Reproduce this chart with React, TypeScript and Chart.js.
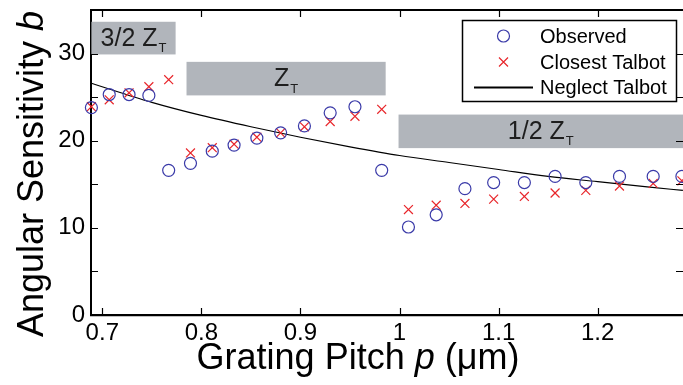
import React, { useEffect, useRef } from 'react';
import { Chart, registerables } from 'chart.js';

Chart.register(...registerables);

const pitch = [0.689, 0.707, 0.727, 0.747, 0.767, 0.789, 0.811, 0.833, 0.856, 0.88, 0.904, 0.93, 0.955, 0.982, 1.009, 1.037, 1.066, 1.095, 1.126, 1.157, 1.188, 1.222, 1.256, 1.285];
const observed = [23.8, 25.3, 25.3, 25.2, 16.6, 17.4, 18.8, 19.5, 20.3, 20.9, 21.7, 23.2, 23.9, 16.6, 10.1, 11.5, 14.5, 15.2, 15.2, 15.9, 15.2, 15.9, 15.9, 15.9];
const closestTalbot = [23.9, 24.7, 25.5, 26.2, 27.0, 18.6, 19.2, 19.6, 20.4, 20.9, 21.6, 22.2, 22.8, 23.6, 12.1, 12.6, 12.8, 13.3, 13.6, 14.0, 14.3, 14.8, 15.1, 15.4];
const curvePitch = [0.689, 0.75, 0.8, 0.85, 0.9, 0.95, 1.0, 1.05, 1.1, 1.15, 1.2, 1.25, 1.286];
const neglectTalbot = [26.6, 24.4, 22.9, 21.6, 20.4, 19.3, 18.3, 17.5, 16.7, 15.9, 15.3, 14.7, 14.3];

const xTicks = [0.7, 0.8, 0.9, 1, 1.1, 1.2];
const yTicks = [0, 5, 10, 15, 20, 25, 30];
const yLabelEvery = 10;

const bandLabels = ['3/2 Z', 'Z', '1/2 Z'];
const bandSub = ['T', 'T', 'T'];
const bandXStart = [0.689, 0.785, 0.999];
const bandXEnd = [0.774, 0.986, 1.3];
const bandYLow = [29.9, 25.2, 19.15];
const bandYHigh = [33.65, 29.05, 23.0];

const FONT = '"Liberation Sans", Arial, Helvetica, sans-serif';
const BLUE = '#3a3aa8';
const RED = '#e8262b';
const BAND = '#b1b5bb';

const noPad = (s: any) => {
  s.paddingTop = 0;
  s.paddingBottom = 0;
  s.paddingLeft = 0;
  s.paddingRight = 0;
};

const deco = {
  id: 'deco',
  beforeDatasetsDraw(chart: any) {
    const { ctx, chartArea: a } = chart;
    const x = chart.scales.x;
    const y = chart.scales.y;
    ctx.save();
    ctx.beginPath();
    ctx.rect(a.left, a.top, a.right - a.left, a.bottom - a.top);
    ctx.clip();
    for (let i = 0; i < bandLabels.length; i++) {
      const x0 = Math.max(a.left, x.getPixelForValue(bandXStart[i]));
      const x1 = Math.min(a.right, x.getPixelForValue(bandXEnd[i]));
      const y0 = y.getPixelForValue(bandYHigh[i]);
      const y1 = y.getPixelForValue(bandYLow[i]);
      ctx.fillStyle = BAND;
      ctx.fillRect(x0, y0, x1 - x0, y1 - y0);
      ctx.fillStyle = '#1e1e1e';
      ctx.font = `25px ${FONT}`;
      const mw = ctx.measureText(bandLabels[i]).width;
      ctx.font = `13px ${FONT}`;
      const sw = ctx.measureText(bandSub[i]).width;
      const total = mw + sw + 1;
      const cx = (x0 + x1) / 2;
      const sx = cx - total / 2;
      const base = (y0 + y1) / 2 + 7.5;
      ctx.textBaseline = 'alphabetic';
      ctx.textAlign = 'left';
      ctx.font = `25px ${FONT}`;
      ctx.fillText(bandLabels[i], sx, base);
      ctx.font = `13px ${FONT}`;
      ctx.fillText(bandSub[i], sx + mw + 1, base + 6.6);
    }
    ctx.restore();
  },
  afterDraw(chart: any) {
    const { ctx, chartArea: a } = chart;
    const x = chart.scales.x;
    const y = chart.scales.y;
    ctx.save();
    ctx.strokeStyle = '#000';
    ctx.lineWidth = 2;
    ctx.beginPath();
    ctx.moveTo(a.left - 1, a.top);
    ctx.lineTo(a.right, a.top);
    ctx.stroke();
    ctx.lineWidth = 1.2;
    ctx.beginPath();
    for (const v of xTicks) {
      const px = Math.round(x.getPixelForValue(v)) + 0.5;
      ctx.moveTo(px, a.bottom);
      ctx.lineTo(px, a.bottom - 7);
      ctx.moveTo(px, a.top);
      ctx.lineTo(px, a.top + 7);
    }
    for (const v of yTicks) {
      const py = Math.round(y.getPixelForValue(v)) + 0.5;
      ctx.moveTo(a.left, py);
      ctx.lineTo(a.left + 7, py);
      ctx.moveTo(a.right, py);
      ctx.lineTo(a.right - 7, py);
    }
    ctx.stroke();

    const lx = 462.5, ly = 20.5, lw = 214, lh = 81;
    ctx.fillStyle = '#fff';
    ctx.fillRect(lx, ly, lw, lh);
    ctx.lineWidth = 1.5;
    ctx.strokeStyle = '#000';
    ctx.strokeRect(lx, ly, lw, lh);
    const ds = chart.data.datasets;
    const rows = [36, 62, 87.5];
    ctx.font = `20px ${FONT}`;
    ctx.textBaseline = 'middle';
    ctx.textAlign = 'left';
    for (let i = 0; i < 3; i++) {
      const cy = rows[i];
      const mx = 503.5;
      if (i === 0) {
        ctx.strokeStyle = BLUE;
        ctx.lineWidth = 1.2;
        ctx.beginPath();
        ctx.arc(mx, cy, 6, 0, Math.PI * 2);
        ctx.stroke();
      } else if (i === 1) {
        ctx.strokeStyle = RED;
        ctx.lineWidth = 1.2;
        ctx.beginPath();
        ctx.moveTo(mx - 4.5, cy - 4.5);
        ctx.lineTo(mx + 4.5, cy + 4.5);
        ctx.moveTo(mx + 4.5, cy - 4.5);
        ctx.lineTo(mx - 4.5, cy + 4.5);
        ctx.stroke();
      } else {
        ctx.strokeStyle = '#000';
        ctx.lineWidth = 2;
        ctx.beginPath();
        ctx.moveTo(474, cy);
        ctx.lineTo(533, cy);
        ctx.stroke();
      }
      ctx.fillStyle = '#000';
      ctx.fillText(ds[i].label, 540, cy + 1);
    }

    ctx.fillStyle = '#000';
    ctx.textBaseline = 'alphabetic';
    const drawMixed = (parts: [string, boolean][], cx: number, cy: number) => {
      let total = 0;
      const widths = parts.map(([t, it]) => {
        ctx.font = `${it ? 'italic ' : ''}36px ${FONT}`;
        const w = ctx.measureText(t).width;
        total += w;
        return w;
      });
      let sx = cx - total / 2;
      parts.forEach(([t, it], k) => {
        ctx.font = `${it ? 'italic ' : ''}36px ${FONT}`;
        ctx.fillText(t, sx, cy);
        sx += widths[k];
      });
    };
    drawMixed([['Grating Pitch ', false], ['p', true], [' (\u03bcm)', false]], 358, 368.5);
    ctx.save();
    ctx.translate(43, 174);
    ctx.rotate(-Math.PI / 2);
    drawMixed([['Angular Sensitivity ', false], ['b', true]], 0, 0);
    ctx.restore();
    ctx.restore();
  },
};

export default function App() {
  const ref = useRef<HTMLCanvasElement>(null);
  useEffect(() => {
    if (!ref.current) return;
    const chart = new Chart(ref.current, {
      type: 'scatter',
      data: {
        datasets: [
          {
            label: 'Observed',
            data: pitch.map((p, i) => ({ x: p, y: observed[i] })),
            pointStyle: 'circle',
            pointRadius: 6,
            pointBorderWidth: 1.2,
            borderColor: BLUE,
            backgroundColor: 'rgba(0,0,0,0)',
            showLine: false,
            clip: false,
            order: 1,
          },
          {
            label: 'Closest Talbot',
            data: pitch.map((p, i) => ({ x: p, y: closestTalbot[i] })),
            pointStyle: 'crossRot',
            pointRadius: 6.3,
            pointBorderWidth: 1.2,
            borderColor: RED,
            backgroundColor: RED,
            showLine: false,
            clip: false,
            order: 2,
          },
          {
            label: 'Neglect Talbot',
            data: curvePitch.map((p, i) => ({ x: p, y: neglectTalbot[i] })),
            showLine: true,
            pointRadius: 0,
            borderColor: '#000',
            borderWidth: 1.2,
            tension: 0.4,
            cubicInterpolationMode: 'monotone',
            order: 3,
          } as any,
        ],
      },
      options: {
        animation: false,
        responsive: false,
        devicePixelRatio: 1,
        layout: { autoPadding: false, padding: { top: 10, left: 0, right: 0, bottom: 0 } },
        plugins: { legend: { display: false }, tooltip: { enabled: false }, title: { display: false } },
        scales: {
          x: {
            type: 'linear',
            min: 0.6886,
            max: 1.2861,
            afterFit: (s: any) => { s.height = 70; noPad(s); },
            afterBuildTicks: (s: any) => { s.ticks = xTicks.map((v) => ({ value: v })); },
            grid: { display: false, drawTicks: false },
            border: { display: true, color: '#000', width: 2.2 },
            ticks: {
              color: '#000',
              font: { family: FONT, size: 24 },
              padding: 4,
              maxRotation: 0,
              autoSkip: false,
              callback: (v: any) => String(v),
            },
          },
          y: {
            type: 'linear',
            min: 0,
            max: 35,
            afterFit: (s: any) => { s.width = 91; noPad(s); },
            afterBuildTicks: (s: any) => { s.ticks = yTicks.map((v) => ({ value: v })); },
            grid: { display: false, drawTicks: false },
            border: { display: true, color: '#000', width: 2 },
            ticks: {
              color: '#000',
              font: { family: FONT, size: 24 },
              padding: 6,
              autoSkip: false,
              callback: (v: any) => (v % yLabelEvery === 0 ? String(v) : ''),
            },
          },
        },
      },
      plugins: [deco],
    });
    return () => chart.destroy();
  }, []);
  return (
    <div style={{ position: 'fixed', left: 0, top: 0, width: 683, height: 385, background: '#fff' }}>
      <canvas ref={ref} width={683} height={385} />
    </div>
  );
}
